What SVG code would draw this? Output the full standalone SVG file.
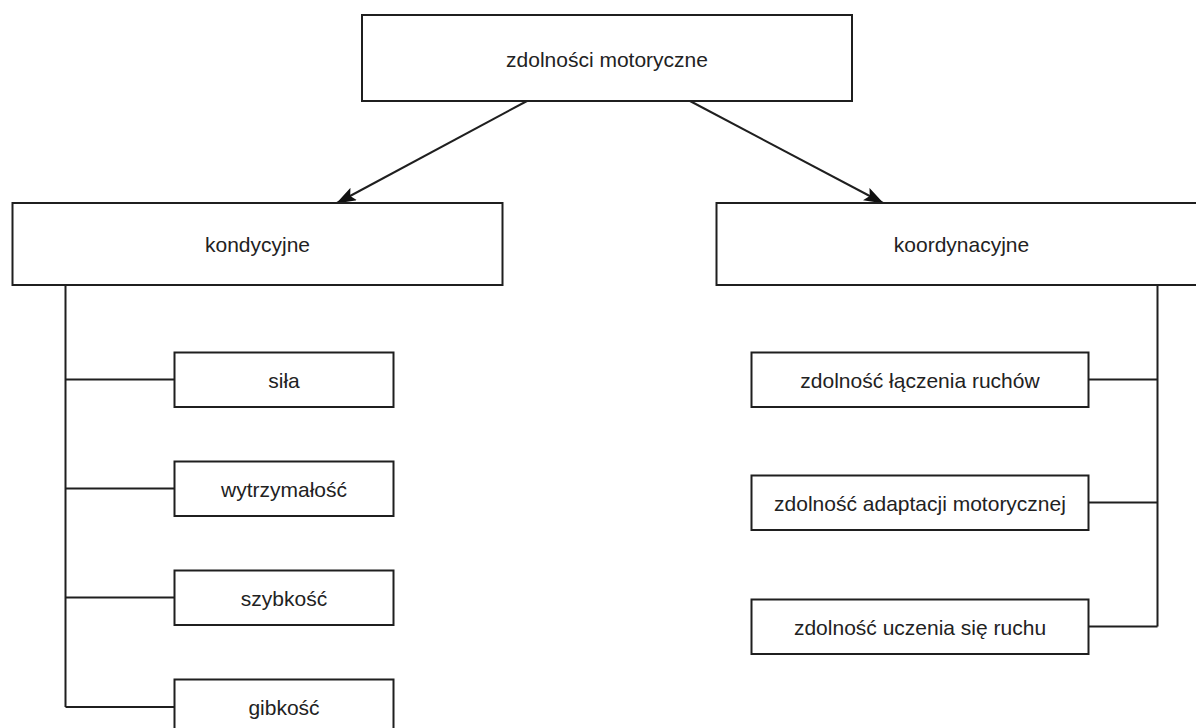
<svg xmlns="http://www.w3.org/2000/svg" width="1196" height="728" viewBox="0 0 1196 728">
  <style>
    .box { fill: #ffffff; stroke: #1f1f1f; stroke-width: 2; }
    .lbl { font-family: "Liberation Sans", Arial, sans-serif; font-size: 21px; fill: #222222; text-anchor: middle; }
    .conn { stroke: #1f1f1f; stroke-width: 2; fill: none; }
  </style>
  <defs>
    <marker id="arrow" viewBox="0 0 10 10" refX="9" refY="5" markerWidth="8" markerHeight="8" markerUnits="userSpaceOnUse" orient="auto">
      <path d="M0,0 L10,5 L0,10 z" fill="#111111"/>
    </marker>
    <marker id="arrowL" viewBox="0 0 20 14" refX="19" refY="7" markerWidth="20" markerHeight="14" markerUnits="userSpaceOnUse" orient="auto">
      <path d="M0,0 L20,7 L0,14 L4,7 z" fill="#111111"/>
    </marker>
  </defs>
  <rect width="1196" height="728" fill="#ffffff"/>

  <g id="connectors">
    <line class="conn" x1="527" y1="101" x2="337" y2="203" marker-end="url(#arrowL)"/>
    <line class="conn" x1="690" y1="101" x2="883" y2="203" marker-end="url(#arrowL)"/>
    <path class="conn" d="M65.5,285 V707"/>
    <path class="conn" d="M65.5,379.5 H174.5"/>
    <path class="conn" d="M65.5,488.5 H174.5"/>
    <path class="conn" d="M65.5,597.5 H174.5"/>
    <path class="conn" d="M65.5,707 H174.5"/>
    <path class="conn" d="M1157.5,285 V626.5"/>
    <path class="conn" d="M1088.5,379.5 H1157.5"/>
    <path class="conn" d="M1088.5,502.5 H1157.5"/>
    <path class="conn" d="M1088.5,626.5 H1157.5"/>
  </g>

  <g id="node-zdolnosci-motoryczne">
    <rect class="box" x="362" y="15" width="490" height="86"/>
    <text class="lbl" x="607" y="67">zdolności motoryczne</text>
  </g>
  <g id="node-kondycyjne">
    <rect class="box" x="12.5" y="203" width="490" height="82"/>
    <text class="lbl" x="257.5" y="252">kondycyjne</text>
  </g>
  <g id="node-koordynacyjne">
    <rect class="box" x="716.5" y="203" width="490" height="82"/>
    <text class="lbl" x="961.5" y="252">koordynacyjne</text>
  </g>
  <g id="node-sila">
    <rect class="box" x="174.5" y="352.5" width="219" height="54.5"/>
    <text class="lbl" x="284" y="388">siła</text>
  </g>
  <g id="node-wytrzymalosc">
    <rect class="box" x="174.5" y="461.5" width="219" height="54.5"/>
    <text class="lbl" x="284" y="497">wytrzymałość</text>
  </g>
  <g id="node-szybkosc">
    <rect class="box" x="174.5" y="570.5" width="219" height="54.5"/>
    <text class="lbl" x="284" y="606">szybkość</text>
  </g>
  <g id="node-gibkosc">
    <rect class="box" x="174.5" y="679.5" width="219" height="54.5"/>
    <text class="lbl" x="284" y="715">gibkość</text>
  </g>
  <g id="node-laczenia">
    <rect class="box" x="751.5" y="352.5" width="337" height="54.5"/>
    <text class="lbl" x="920" y="388">zdolność łączenia ruchów</text>
  </g>
  <g id="node-adaptacji">
    <rect class="box" x="751.5" y="475.5" width="337" height="54.5"/>
    <text class="lbl" x="920" y="511">zdolność adaptacji motorycznej</text>
  </g>
  <g id="node-uczenia">
    <rect class="box" x="751.5" y="599.5" width="337" height="54.5"/>
    <text class="lbl" x="920" y="635">zdolność uczenia się ruchu</text>
  </g>
</svg>
